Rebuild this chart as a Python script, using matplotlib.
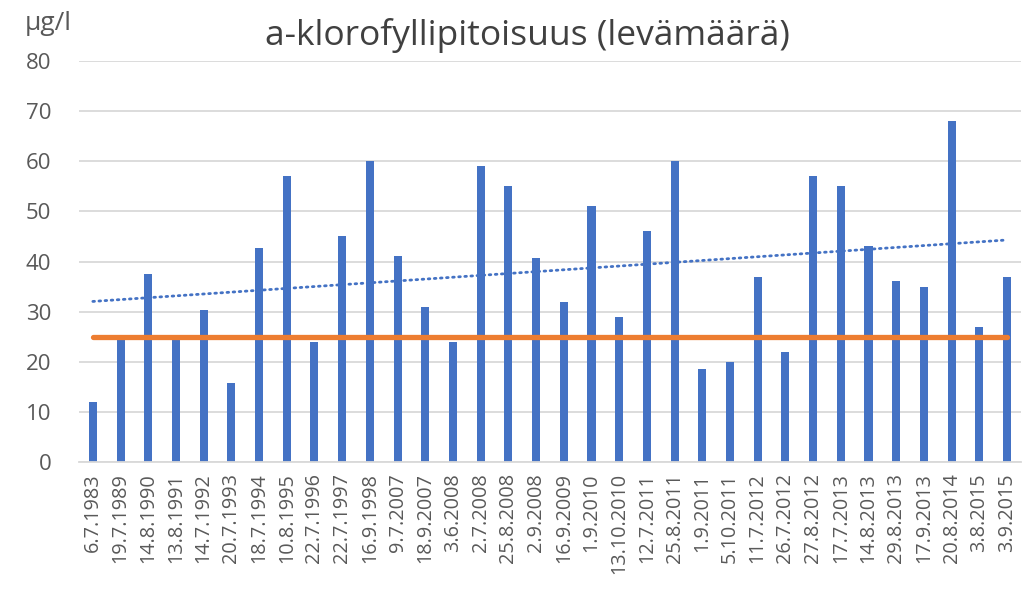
import numpy as np
import matplotlib.pyplot as plt

plt.rcParams['font.family'] = ['Open Sans', 'DejaVu Sans']

dates = ['6.7.1983', '19.7.1989', '14.8.1990', '13.8.1991', '14.7.1992', '20.7.1993',
         '18.7.1994', '10.8.1995', '22.7.1996', '22.7.1997', '16.9.1998', '9.7.2007',
         '18.9.2007', '3.6.2008', '2.7.2008', '25.8.2008', '2.9.2008', '16.9.2009',
         '1.9.2010', '13.10.2010', '12.7.2011', '25.8.2011', '1.9.2011', '5.10.2011',
         '11.7.2012', '26.7.2012', '27.8.2012', '17.7.2013', '14.8.2013', '29.8.2013',
         '17.9.2013', '20.8.2014', '3.8.2015', '3.9.2015']
chl = [12, 24.4, 37.5, 24.4, 30.3, 15.8, 42.7, 57, 24, 45, 60, 41, 31, 24, 59, 55,
       40.7, 32, 51, 29, 46, 60, 18.6, 20, 37, 22, 57, 55, 43, 36.2, 35, 68, 27, 37]
limit = [25] * len(dates)

x = np.arange(len(dates))
k, b = np.polyfit(x, chl, 1)

fig = plt.figure(figsize=(10.26, 5.98), dpi=100)
ax = fig.add_axes([0.077, 0.2274, 0.918, 0.6706])

ax.bar(x, chl, width=0.29, color='#4472C4', zorder=2)
ax.plot(x, limit, color='#ED7D31', lw=3.8, solid_capstyle='round', zorder=3)
ax.plot(x, k * x + b, color='#4472C4', lw=2, ls=(0, (0.6, 1.6)),
        dash_capstyle='round', zorder=3)

ax.set_xlim(-0.5, len(dates) - 0.5)
ax.set_ylim(0, 80)
ax.set_yticks(range(0, 81, 10))
ax.grid(axis='y', color='#d9d9d9', lw=1.3, zorder=0)
for s in ['top', 'right', 'left']:
    ax.spines[s].set_visible(False)
ax.spines['bottom'].set_color('#d9d9d9')
ax.spines['bottom'].set_linewidth(1.3)
ax.tick_params(axis='both', length=0, colors='#595959')
ax.tick_params(axis='y', pad=20, labelsize=16)
ax.tick_params(axis='x', pad=8)
ax.set_xticks(x)
ax.set_xticklabels(dates, rotation=90, fontsize=14.3)

fig.text(0.514, 0.94, 'a-klorofyllipitoisuus (levämäärä)', ha='center', va='center',
         fontsize=25.5, color='#404040')
fig.text(0.024, 0.96, 'µg/l', ha='left', va='center', fontsize=19, color='#595959')

fig.savefig('out.png', dpi=100)
